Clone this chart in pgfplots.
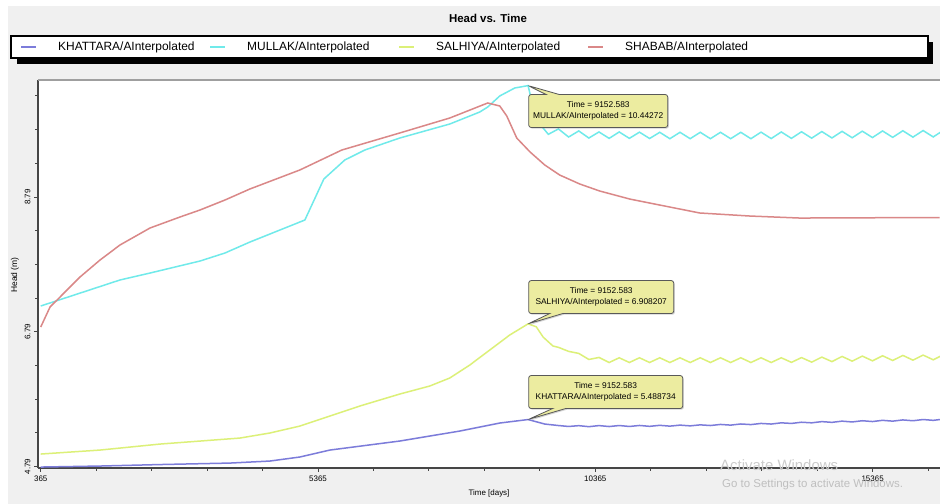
\documentclass[border=0pt]{standalone}
\usepackage{fontspec}
\setmainfont{Liberation Sans}
\usepackage{pgfplots}
\pgfplotsset{compat=1.18}
\usetikzlibrary{shapes.callouts,shadows}
\definecolor{kh}{RGB}{124,124,218}
\definecolor{mu}{RGB}{112,234,234}
\definecolor{sa}{RGB}{220,240,120}
\definecolor{sh}{RGB}{218,136,136}
\definecolor{panel}{RGB}{240,240,240}
\definecolor{callfill}{RGB}{236,236,160}
\definecolor{axisdark}{RGB}{70,70,70}
\begin{document}
\begin{tikzpicture}[x=1bp,y=1bp]
\useasboundingbox (0,0) rectangle (940,504);
\fill[white] (0,0) rectangle (940,504);
\fill[panel] (8,0) rectangle (940,498);
\node[font=\bfseries\fontsize{11.5}{13}\selectfont] at (488,486) {Head vs. Time};
% legend frame with shadow
\fill[black] (17,440) rectangle (933,446);
\fill[black] (927,440) rectangle (933,462);
\draw[black, line width=1.5bp, fill=white] (11,446) rectangle (928,468);
\begin{axis}[
  at={(38bp,36bp)}, anchor=south west,
  width=902bp, height=388bp, scale only axis,
  xmin=316, xmax=16580, ymin=4.77, ymax=10.526,
  scaled x ticks=false, scaled y ticks=false,
  axis x line*=bottom, axis y line*=left,
  axis line style={draw=axisdark, line width=1.8bp},
  axis background/.style={fill=white},
  xtick={365,5365,10365,15365},
  xticklabels={365,5365,10365,15365},
  minor xtick={1365,2365,3365,4365,6365,7365,8365,9365,11365,12365,13365,14365,16365},
  ytick={4.79,6.79,8.79},
  yticklabels={4.79,6.79,8.79},
  minor ytick={5.29,5.79,6.29,7.29,7.79,8.29,9.29,9.79,10.29},
  tick align=outside,
  major tick length=4bp, minor tick length=3bp,
  tick style={draw=axisdark, line width=1bp},
  xticklabel style={font=\fontsize{8}{9}\selectfont},
  yticklabel style={rotate=90, anchor=south, font=\fontsize{8}{9}\selectfont},
  xlabel={Time  [days]}, ylabel={Head (m)},
  xlabel style={at={(axis description cs:0.5,-0.0644)}, anchor=center, font=\fontsize{8}{9}\selectfont},
  ylabel style={at={(axis description cs:-0.0255,0.497)}, anchor=center, font=\fontsize{8.5}{9}\selectfont},
  legend style={at={(axis description cs:-0.01996,1.0851)}, anchor=west,
    draw=none, fill=none, inner sep=0pt, column sep=0pt,
    nodes={inner sep=0pt, font=\fontsize{12}{14}\selectfont}},
  legend columns=4,
  legend image code/.code={\draw[#1, line width=2bp] (0bp,0bp) -- (15bp,0bp); \draw[draw=none] (0bp,0bp) -- (37bp,0bp);},
  every axis plot/.append style={line width=1.5bp},
]
\addplot[kh] coordinates {
(365,4.784) (1434,4.799) (2515,4.821) (3776,4.843) (4497,4.873) (5038,4.933) (5578,5.036)
(6839,5.170) (7921,5.318) (8642,5.437) (9152.583,5.488734) (9453,5.422) (9700,5.400) (9883,5.386)
(10066,5.398) (10248,5.383) (10431,5.399) (10614,5.385) (10796,5.400) (10979,5.386) (11161,5.401)
(11344,5.388) (11527,5.403) (11709,5.391) (11892,5.406) (12075,5.395) (12257,5.410) (12440,5.400)
(12622,5.416) (12805,5.406) (12988,5.423) (13170,5.414) (13353,5.431) (13536,5.422) (13718,5.440)
(13901,5.431) (14083,5.449) (14266,5.440) (14449,5.458) (14631,5.447) (14814,5.465) (14997,5.453)
(15179,5.471) (15362,5.459) (15544,5.477) (15727,5.465) (15910,5.483) (16092,5.471) (16275,5.489)
(16458,5.477) (16640,5.495)
};
\addlegendentry{\makebox[151bp][l]{KHATTARA/AInterpolated}}
\addplot[mu] coordinates {
(365,7.173) (1794,7.559) (2335,7.662) (3236,7.840) (3686,7.959) (4137,8.122) (4677,8.300)
(5128,8.449) (5470,9.057) (5848,9.339) (6209,9.487) (6839,9.665) (7741,9.873) (8281,10.051)
(8425,10.125) (8642,10.289) (8912,10.407) (9152.583,10.44272) (9250,10.10) (9335,9.90)
(9518,9.72) (9700,9.80) (9883,9.68) (10066,9.77) (10248,9.665) (10431,9.755) (10614,9.66)
(10796,9.755) (10979,9.66) (11161,9.752) (11344,9.658) (11527,9.750) (11709,9.655) (11892,9.750)
(12075,9.655) (12257,9.750) (12440,9.655) (12622,9.750) (12805,9.655) (12988,9.750) (13170,9.655)
(13353,9.752) (13536,9.657) (13718,9.755) (13901,9.660) (14083,9.758) (14266,9.663) (14449,9.761)
(14631,9.666) (14814,9.764) (14997,9.669) (15179,9.767) (15362,9.672) (15544,9.770) (15727,9.675)
(15910,9.773) (16092,9.678) (16275,9.776) (16458,9.681) (16640,9.779)
};
\addlegendentry{\makebox[151bp][l]{MULLAK/AInterpolated}}
\addplot[sa] coordinates {
(365,4.977) (1434,5.036) (2515,5.125) (3956,5.214) (4497,5.289) (5038,5.392) (5578,5.541)
(6118,5.689) (6839,5.867) (7380,5.986) (7741,6.105) (8101,6.297) (8461,6.520) (8822,6.743)
(9152.583,6.908207) (9300,6.865) (9423,6.713) (9600,6.58) (9700,6.56) (9883,6.50) (10066,6.47)
(10248,6.38) (10431,6.41) (10614,6.335) (10796,6.405) (10979,6.335) (11161,6.405) (11344,6.335)
(11527,6.405) (11709,6.335) (11892,6.405) (12075,6.335) (12257,6.405) (12440,6.335) (12622,6.405)
(12805,6.335) (12988,6.405) (13170,6.335) (13353,6.405) (13536,6.335) (13718,6.405) (13901,6.337)
(14083,6.408) (14266,6.340) (14449,6.415) (14631,6.348) (14814,6.425) (14997,6.355) (15179,6.430)
(15362,6.360) (15544,6.435) (15727,6.365) (15910,6.440) (16092,6.370) (16275,6.445) (16458,6.375)
(16640,6.450)
};
\addlegendentry{\makebox[151bp][l]{SALHIYA/AInterpolated}}
\addplot[sh] coordinates {
(365,6.861) (533,7.158) (713,7.306) (1073,7.603) (1434,7.855) (1794,8.078) (2335,8.330)
(2875,8.493) (3236,8.597) (3686,8.745) (4137,8.909) (5038,9.191) (5794,9.487) (6839,9.740)
(7741,9.962) (8425,10.185) (8642,10.140) (8768,9.992) (8948,9.665) (9188,9.458) (9453,9.265)
(9723,9.116) (10084,8.983) (10444,8.879) (10985,8.760) (11526,8.671) (12247,8.553) (13148,8.508)
(14049,8.478) (16572,8.486)
};
\addlegendentry{\makebox[151bp][l]{SHABAB/AInterpolated}}
\draw[gray!75, line width=1.5bp] (rel axis cs:0,1) -- (rel axis cs:1,1);
\node[rectangle callout, fill=callfill, draw=gray!70!black, line width=0.8bp, rounded corners=2.5bp,
  drop shadow={shadow xshift=1.2bp, shadow yshift=-1.2bp, opacity=0.35},
  align=center, font=\fontsize{8.4}{11}\selectfont, minimum width=139bp, minimum height=33bp, inner sep=1bp,
  callout absolute pointer={(axis cs:9152.583,10.44272)}, callout pointer width=13bp]
  at (axis cs:10417,10.066) {Time = 9152.583\\MULLAK/AInterpolated = 10.44272};
\node[rectangle callout, fill=callfill, draw=gray!70!black, line width=0.8bp, rounded corners=2.5bp,
  drop shadow={shadow xshift=1.2bp, shadow yshift=-1.2bp, opacity=0.35},
  align=center, font=\fontsize{8.4}{11}\selectfont, minimum width=145bp, minimum height=33bp, inner sep=1bp,
  callout absolute pointer={(axis cs:9152.583,6.908207)}, callout pointer width=13bp]
  at (axis cs:10471,7.306) {Time = 9152.583\\SALHIYA/AInterpolated = 6.908207};
\node[rectangle callout, fill=callfill, draw=gray!70!black, line width=0.8bp, rounded corners=2.5bp,
  drop shadow={shadow xshift=1.2bp, shadow yshift=-1.2bp, opacity=0.35},
  align=center, font=\fontsize{8.4}{11}\selectfont, minimum width=154bp, minimum height=33bp, inner sep=1bp,
  callout absolute pointer={(axis cs:9152.583,5.488734)}, callout pointer width=13bp]
  at (axis cs:10552,5.897) {Time = 9152.583\\KHATTARA/AInterpolated = 5.488734};
\end{axis}
\node[anchor=west, text=black!20, font=\fontsize{15}{16}\selectfont, inner sep=0pt] at (720,39) {Activate Windows};
\node[anchor=west, text=black!25, font=\fontsize{11.5}{12}\selectfont, inner sep=0pt] at (722,19) {Go to Settings to activate Windows.};
\end{tikzpicture}
\end{document}
